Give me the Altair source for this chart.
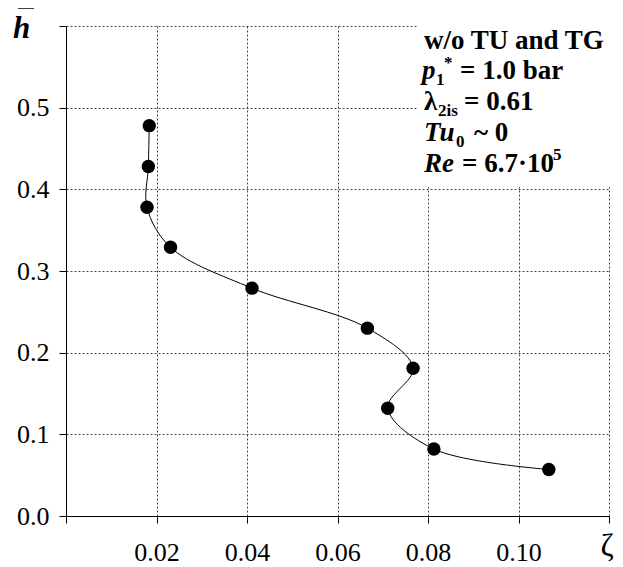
import altair as alt
import pandas as pd

# data
zeta = [0.0184, 0.0182, 0.0179, 0.0231, 0.0411, 0.0666, 0.0767, 0.0711, 0.0813, 0.1067]
hbar = [0.478, 0.428, 0.378, 0.329, 0.279, 0.230, 0.181, 0.132, 0.082, 0.057]
x_ticks = [0, 0.02, 0.04, 0.06, 0.08, 0.10, 0.12]
y_ticks = [0, 0.1, 0.2, 0.3, 0.4, 0.5, 0.6]

df = pd.DataFrame({"zeta": zeta, "hbar": hbar, "idx": list(range(len(zeta)))})

FONT = "Liberation Serif"
GRID = dict(grid=True, gridDash=[2, 2], gridColor="#444444", gridWidth=1,
            domainColor="black", domainWidth=1, tickColor="black", tickSize=7,
            labelFont=FONT, labelFontSize=26, labelColor="black", title=None)

x_enc = alt.X("zeta:Q", scale=alt.Scale(domain=[0, 0.12], nice=False, zero=True),
              axis=alt.Axis(values=x_ticks, labelPadding=16,
                            labelExpr="(datum.value < 0.001 || datum.value > 0.11) ? '' : format(datum.value, '.2f')",
                            **GRID))
y_enc = alt.Y("hbar:Q", scale=alt.Scale(domain=[0, 0.6], nice=False, zero=True),
              axis=alt.Axis(values=y_ticks, labelPadding=10,
                            labelExpr="datum.value > 0.55 ? '' : format(datum.value, '.1f')",
                            **GRID))

base = alt.Chart(df)
line = base.mark_line(interpolate="catmull-rom", color="black", strokeWidth=1).encode(
    x=x_enc, y=y_enc, order=alt.Order("idx:Q"))
pts = base.mark_circle(size=180, color="black", opacity=1).encode(x="zeta:Q", y="hbar:Q")

one = alt.Data(values=[{"a": 1}])
cover = alt.Chart(one).mark_rect(color="white").encode(
    x=alt.value(352), x2=alt.value(565), y=alt.value(-20), y2=alt.value(161))


def txt(s, x, y, size=27, style="normal", weight="bold", align="left"):
    return alt.Chart(one).mark_text(
        font=FONT, fontSize=size, fontStyle=style, fontWeight=weight,
        align=align, baseline="alphabetic", color="black").encode(
        x=alt.value(x), y=alt.value(y), text=alt.value(s))


texts = [
    txt("w/o TU and TG", 358, 23),
    txt("p", 356, 53, style="italic"),
    txt("1", 370, 59, size=17),
    txt("*", 378, 42, size=17),
    txt("= 1.0 bar", 394, 53),
    txt("λ", 358, 84),
    txt("2is", 372, 90, size=17),
    txt("= 0.61", 398, 84),
    txt("Tu", 358, 115, style="italic"),
    txt("0", 390, 121, size=17),
    txt("~ 0", 408, 115),
    txt("Re", 358, 146, style="italic"),
    txt("= 6.7·10", 396, 146),
    txt("5", 487, 134, size=17),
    txt("h", -53, 12, size=31, style="italic"),
    txt("ζ", 541, 530, size=32, weight="normal", align="center"),
]
bar = alt.Chart(one).mark_rule(color="black", strokeWidth=2.5).encode(
    x=alt.value(-48), x2=alt.value(-32), y=alt.value(-18.5))

chart = alt.layer(line, pts, cover, bar, *texts).properties(
    width=543, height=490,
    autosize=alt.AutoSizeParams(type="none"),
    padding={"left": 58, "top": 18, "right": 6, "bottom": 60},
    background="white",
).configure_view(stroke=None)

chart.save("out.html", embed_options={"renderer": "svg", "actions": False})
